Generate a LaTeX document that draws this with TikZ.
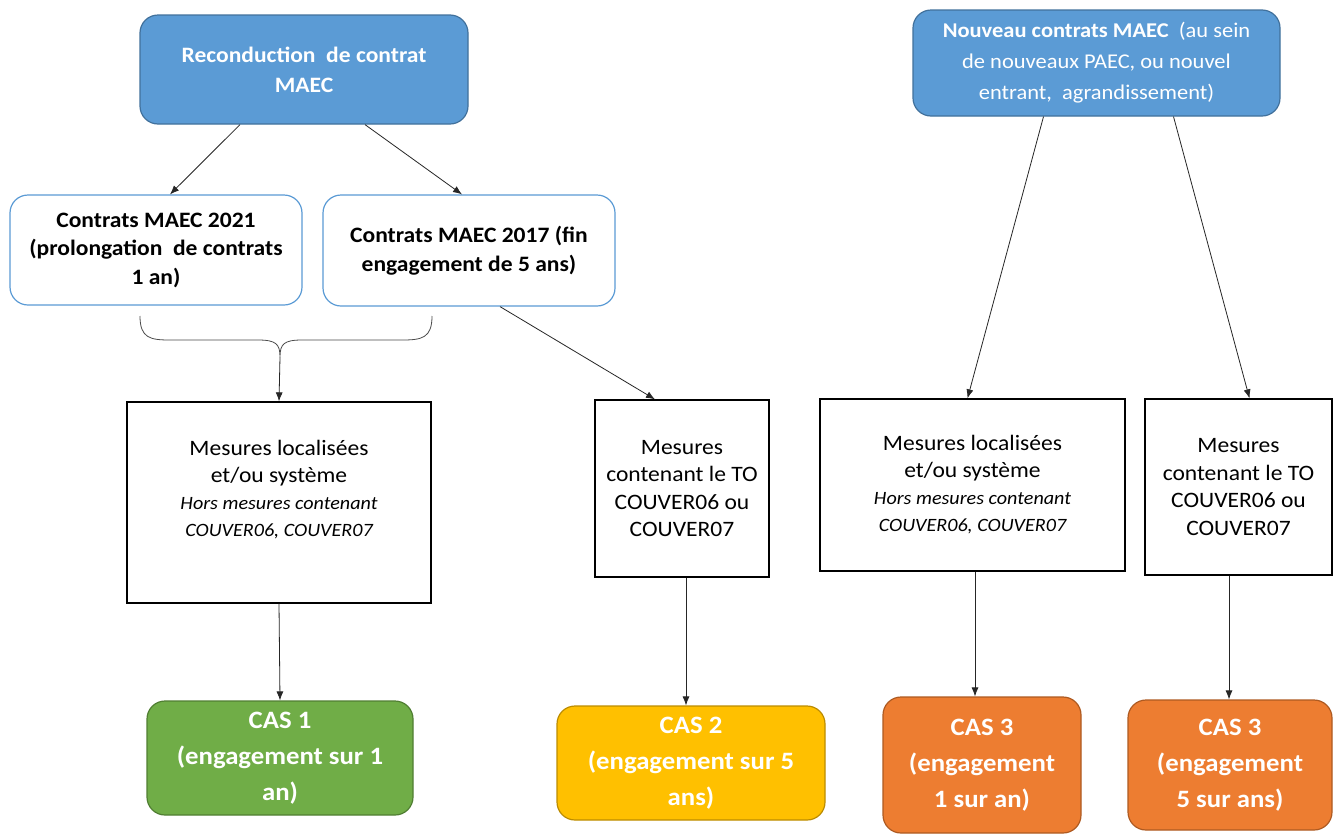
\documentclass[tikz,border=0pt]{standalone}
\usepackage{fontspec}
\setmainfont[FakeStretch=1.07]{Carlito}
\usetikzlibrary{arrows.meta}
\definecolor{bluebox}{HTML}{5B9BD5}
\definecolor{blueedge}{HTML}{41719C}
\definecolor{greenbox}{HTML}{70AD47}
\definecolor{greenedge}{HTML}{507E32}
\definecolor{yellowbox}{HTML}{FFC000}
\definecolor{yellowedge}{HTML}{BC8C00}
\definecolor{orangebox}{HTML}{ED7D31}
\definecolor{orangeedge}{HTML}{AE5A21}
\newcommand{\itsmall}{\itshape\fontsize{18.8}{25}\selectfont}
\tikzset{
  topbox/.style={draw=blueedge, fill=bluebox, rounded corners=18pt, line width=1.2pt, text=white, align=center},
  contbox/.style={draw=bluebox, fill=white, rounded corners=18pt, line width=1.2pt, align=center, font=\bfseries\fontsize{22}{28.5}\selectfont},
  mesbox/.style={draw=black, fill=white, line width=1.3pt, align=center, font=\fontsize{22}{27}\selectfont},
  casbox/.style={rounded corners=18pt, line width=1.2pt, text=white, align=center, font=\bfseries\fontsize{25}{36}\selectfont},
  conn/.style={-{Latex[length=9pt,width=7pt]}, line width=0.8pt, draw=black!85}
}
\begin{document}
\begin{tikzpicture}[x=1pt,y=-1pt]
\useasboundingbox (0,0) rectangle (1338,833);
\fill[white] (0,0) rectangle (1338,833);
% top
\node[topbox, font=\bfseries\fontsize{22}{30}\selectfont, minimum width=328pt, minimum height=109pt] (rec) at (304,69.5) {Reconduction~ de contrat\\MAEC};
\node[topbox, font=\bfseries\fontsize{21}{31}\selectfont, minimum width=367pt, minimum height=106pt] (nou) at (1096.5,63) {Nouveau contrats MAEC~ {\mdseries (au sein}\\{\mdseries de nouveaux PAEC, ou nouvel}\\{\mdseries entrant,~ agrandissement)}};
% contracts
\node[contbox, minimum width=292pt, minimum height=110pt] (c21) at (156,250) {Contrats MAEC 2021\\(prolongation~ de contrats\\1 an)};
\node[contbox, minimum width=292pt, minimum height=111pt] (c17) at (469,250.5) {Contrats MAEC 2017 (fin\\engagement de 5 ans)};
% measures
\node[mesbox, minimum width=304pt, minimum height=201pt] (m1) at (279,502.5) {Mesures localisées\\et/ou système\\{\itsmall Hors mesures contenant}\\{\itsmall COUVER06, COUVER07}\\[2pt]};
\node[mesbox, font=\fontsize{22}{27.5}\selectfont, minimum width=174pt, minimum height=177pt] (m2) at (682,488.5) {Mesures\\contenant le TO\\COUVER06 ou\\COUVER07};
\node[mesbox, minimum width=305pt, minimum height=172pt] (m3) at (972.5,485) {Mesures localisées\\et/ou système\\{\itsmall Hors mesures contenant}\\{\itsmall COUVER06, COUVER07}};
\node[mesbox, font=\fontsize{22}{27.5}\selectfont, minimum width=187pt, minimum height=176pt] (m4) at (1238.5,487) {Mesures\\contenant le TO\\COUVER06 ou\\COUVER07};
% cases
\node[casbox, draw=greenedge, fill=greenbox, minimum width=266pt, minimum height=114pt] (cas1) at (280,758) {CAS 1\\(engagement sur 1\\an)};
\node[casbox, draw=yellowedge, fill=yellowbox, minimum width=268pt, minimum height=114pt] (cas2) at (691,763) {CAS 2\\(engagement sur 5\\ans)};
\node[casbox, draw=orangeedge, fill=orangebox, minimum width=198pt, minimum height=136pt] (cas3a) at (982,765) {CAS 3\\(engagement\\1 sur an)};
\node[casbox, draw=orangeedge, fill=orangebox, minimum width=204pt, minimum height=130pt] (cas3b) at (1230,765) {CAS 3\\(engagement\\5 sur ans)};
% brace
\coordinate (br) at (280,357);
\draw[line width=0.8pt, draw=black!70] (140,316) .. controls (140,338) and (150,340) .. (170,340) -- (258,340) .. controls (276,340) and (280,344) .. (br) .. controls (280,344) and (284,340) .. (302,340) -- (402,340) .. controls (422,340) and (432,338) .. (432,316);
% connectors
\draw[conn] ([xshift=-64pt]rec.south) -- (c21.north -| 170,0);
\draw[conn] ([xshift=61pt]rec.south) -- (c17.north -| 462,0);
\draw[conn] (br) -- (m1.north);
\draw[conn] ([xshift=31pt]c17.south) -- ([xshift=-27pt]m2.north);
\draw[conn] ([xshift=-53pt]nou.south) -- ([xshift=-5pt]m3.north);
\draw[conn] ([xshift=77pt]nou.south) -- ([xshift=11pt]m4.north);
\draw[conn] (m1.south) -- (cas1.north);
\draw[conn] ([xshift=4pt]m2.south) -- ([xshift=-5pt]cas2.north);
\draw[conn] ([xshift=2.5pt]m3.south) -- ([xshift=-7pt]cas3a.north);
\draw[conn] ([xshift=-9.5pt]m4.south) -- ([xshift=-1pt]cas3b.north);
\end{tikzpicture}
\end{document}
